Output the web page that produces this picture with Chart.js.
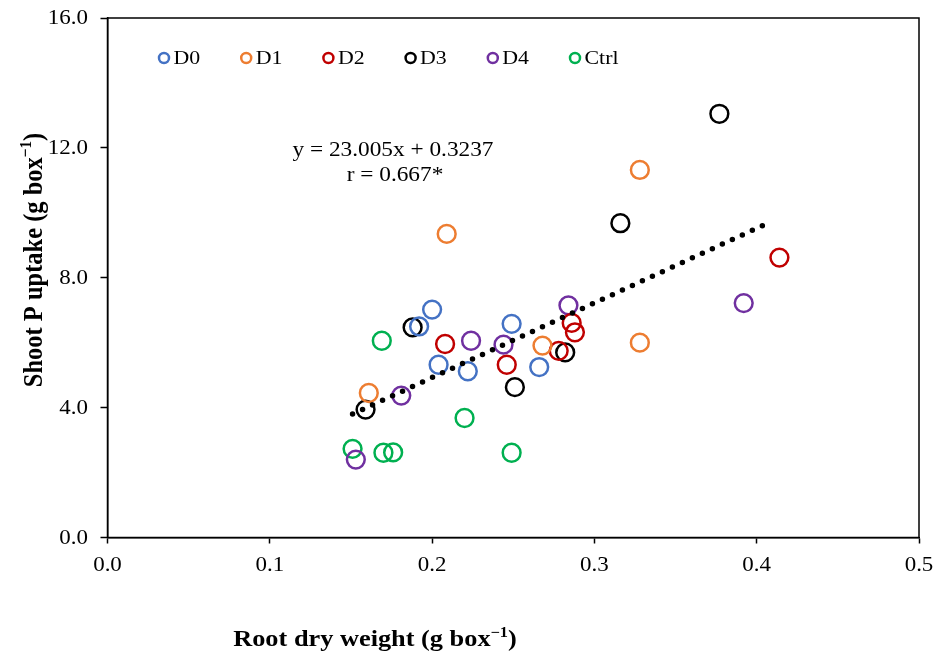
<!DOCTYPE html>
<html>
<head>
<meta charset="utf-8">
<script src="https://cdn.jsdelivr.net/npm/chart.js@4/dist/chart.umd.min.js"></script>
<style>
  html, body { margin: 0; padding: 0; background: #fff; }
  #wrap { width: 936px; height: 654px; position: relative; }
</style>
</head>
<body>
<div id="wrap"><canvas id="c" width="936" height="654"></canvas></div>
<script>
// ---- data ----
const seriesNames = ['D0', 'D1', 'D2', 'D3', 'D4', 'Ctrl'];
const seriesColors = ['#4472C4', '#ED7D31', '#C00000', '#000000', '#7030A0', '#00B050'];

const d0X = [0.200, 0.192, 0.204, 0.222, 0.249, 0.266];
const d0Y = [7.02, 6.50, 5.32, 5.12, 6.58, 5.25];
const d1X = [0.209, 0.328, 0.328, 0.268, 0.161];
const d1Y = [9.35, 11.32, 6.00, 5.91, 4.45];
const d2X = [0.208, 0.246, 0.278, 0.286, 0.288, 0.414];
const d2Y = [5.96, 5.32, 5.75, 6.61, 6.32, 8.62];
const d3X = [0.377, 0.316, 0.188, 0.282, 0.251, 0.159];
const d3Y = [13.05, 9.68, 6.47, 5.70, 4.63, 3.94];
const d4X = [0.284, 0.224, 0.244, 0.181, 0.153, 0.392];
const d4Y = [7.15, 6.06, 5.94, 4.37, 2.40, 7.22];
const ctrlX = [0.169, 0.220, 0.151, 0.170, 0.176, 0.249];
const ctrlY = [6.06, 3.68, 2.73, 2.61, 2.62, 2.61];

// linear trendline end points (as drawn)
const trendX = [0.151, 0.409];
const trendY = [3.80, 9.73];

const equationLines = ['y = 23.005x + 0.3237', 'r = 0.667*'];

const xTickValues = [0, 0.1, 0.2, 0.3, 0.4, 0.5];
const xTickLabels = ['0.0', '0.1', '0.2', '0.3', '0.4', '0.5'];
const yTickValues = [0, 4, 8, 12, 16];
const yTickLabels = ['0.0', '4.0', '8.0', '12.0', '16.0'];

const xTitle = ['Root dry weight (g box', '\u22121', ')'];
const yTitle = ['Shoot P uptake (g box', '\u22121', ')'];

// ---- build datasets ----
const xs = [d0X, d1X, d2X, d3X, d4X, ctrlX];
const ys = [d0Y, d1Y, d2Y, d3Y, d4Y, ctrlY];
const pts = (a, b) => a.map((v, i) => ({ x: v, y: b[i] }));

const datasets = seriesNames.map((n, k) => ({
  type: 'scatter',
  label: n,
  data: pts(xs[k], ys[k]),
  pointStyle: 'circle',
  pointRadius: 8.9,
  pointHoverRadius: 8.9,
  pointBorderWidth: 2.5,
  pointBackgroundColor: 'rgba(0,0,0,0)',
  pointBorderColor: seriesColors[k],
  borderColor: seriesColors[k],
  backgroundColor: 'rgba(0,0,0,0)',
  showLine: false,
  order: 2
}));

datasets.push({
  type: 'line',
  label: 'trend',
  data: pts(trendX, trendY),
  borderColor: '#000',
  borderWidth: 5.5,
  borderDash: [0, 11],
  borderCapStyle: 'round',
  pointRadius: 0,
  fill: false,
  tension: 0,
  order: 1
});

const SERIF = '"Liberation Serif", "Times New Roman", serif';
const STRETCH = 1.12;

function drawText(ctx, text, px, py, font, align, baseline, s) {
  ctx.save();
  ctx.translate(px, py);
  ctx.scale(s, 1);
  ctx.font = font;
  ctx.textAlign = align;
  ctx.textBaseline = baseline;
  ctx.fillStyle = '#000';
  ctx.fillText(text, 0, 0);
  ctx.restore();
}

function drawTitle(ctx, parts, size) {
  const main = 'bold ' + size + 'px ' + SERIF;
  const sup = 'bold ' + (size * 0.62).toFixed(1) + 'px ' + SERIF;
  ctx.font = main; const w0 = ctx.measureText(parts[0]).width;
  ctx.font = sup; const w1 = ctx.measureText(parts[1]).width;
  ctx.font = main; const w2 = ctx.measureText(parts[2]).width;
  const total = w0 + w1 + w2;
  const x0 = -total / 2;
  ctx.fillStyle = '#000';
  ctx.textAlign = 'left';
  ctx.textBaseline = 'alphabetic';
  ctx.font = main; ctx.fillText(parts[0], x0, 0);
  ctx.font = sup; ctx.fillText(parts[1], x0 + w0, -size * 0.38);
  ctx.font = main; ctx.fillText(parts[2], x0 + w0 + w1, 0);
}

const decorPlugin = {
  id: 'decor',
  afterDraw(chart) {
    const ctx = chart.ctx;
    const ca = chart.chartArea;
    const sx = chart.scales.x, sy = chart.scales.y;
    ctx.save();
    ctx.strokeStyle = '#000';
    ctx.lineWidth = 1.5;
    ctx.strokeRect(ca.left, ca.top, ca.right - ca.left, ca.bottom - ca.top);

    const tickFont = '20.5px ' + SERIF;
    xTickValues.forEach((v, i) => {
      drawText(ctx, xTickLabels[i], sx.getPixelForValue(v), ca.bottom + 28, tickFont, 'center', 'middle', STRETCH);
    });
    yTickValues.forEach((v, i) => {
      drawText(ctx, yTickLabels[i], ca.left - 19.5, sy.getPixelForValue(v) + 1, tickFont, 'right', 'middle', STRETCH);
    });

    const legFont = '19.5px ' + SERIF;
    seriesNames.forEach((n, k) => {
      const cx = ca.left + 56.5 + 82.2 * k, cy = 58;
      ctx.beginPath();
      ctx.arc(cx, cy, 5, 0, Math.PI * 2);
      ctx.lineWidth = 2.5;
      ctx.strokeStyle = seriesColors[k];
      ctx.stroke();
      drawText(ctx, n, cx + 9.5, cy + 1, legFont, 'left', 'middle', STRETCH);
    });

    const eqFont = '20.8px ' + SERIF;
    drawText(ctx, equationLines[0], 393, 151, eqFont, 'center', 'middle', STRETCH);
    drawText(ctx, equationLines[1], 395, 176, eqFont, 'center', 'middle', STRETCH);

    ctx.save();
    ctx.translate(375, 646);
    ctx.scale(STRETCH, 1);
    drawTitle(ctx, xTitle, 23.5);
    ctx.restore();

    ctx.save();
    ctx.translate(41.5, 260);
    ctx.rotate(-Math.PI / 2);
    ctx.scale(1, STRETCH);
    drawTitle(ctx, yTitle, 24.5);
    ctx.restore();

    ctx.restore();
  }
};

new Chart(document.getElementById('c'), {
  type: 'scatter',
  data: { datasets },
  options: {
    responsive: false,
    animation: false,
    events: [],
    layout: { padding: { top: 18, right: 17, bottom: 0, left: 0 } },
    plugins: {
      legend: { display: false },
      tooltip: { enabled: false },
      title: { display: false }
    },
    scales: {
      x: {
        type: 'linear',
        min: 0, max: 0.5,
        ticks: { stepSize: 0.1, display: false },
        grid: { display: true, drawOnChartArea: false, drawTicks: true, tickLength: 6, tickWidth: 1.5, tickColor: '#000' },
        border: { display: true, color: '#000', width: 1.5 },
        afterFit(scale) { scale.height = 116.5; }
      },
      y: {
        type: 'linear',
        min: 0, max: 16,
        ticks: { stepSize: 4, display: false },
        grid: { display: true, drawOnChartArea: false, drawTicks: true, tickLength: 7, tickWidth: 1.5, tickColor: '#000' },
        border: { display: true, color: '#000', width: 1.5 },
        afterFit(scale) { scale.width = 107.5; }
      }
    }
  },
  plugins: [decorPlugin]
});
</script>
</body>
</html>
